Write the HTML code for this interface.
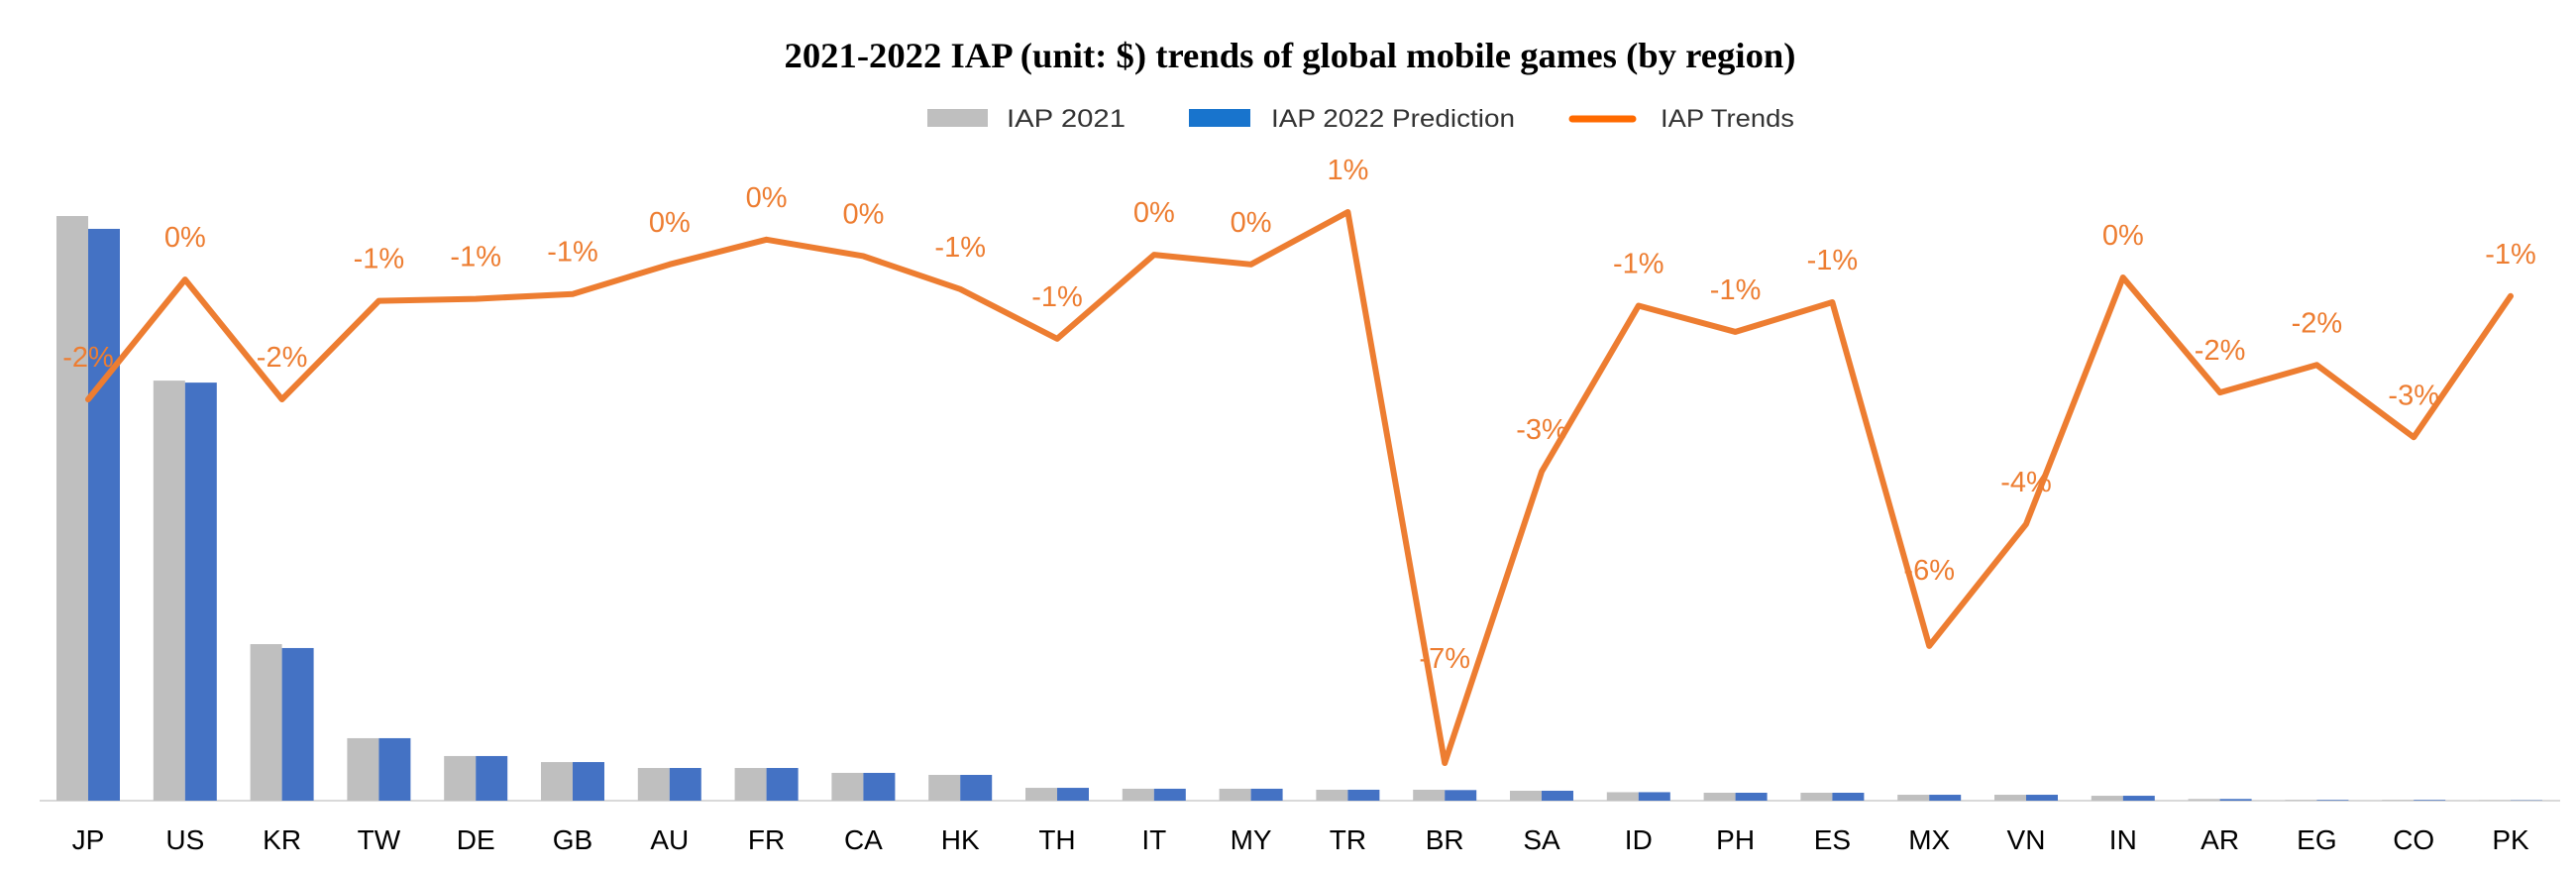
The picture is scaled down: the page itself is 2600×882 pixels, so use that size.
<!DOCTYPE html>
<html><head><meta charset="utf-8"><style>
html,body{margin:0;padding:0;background:#fff;}
svg{display:block;}
</style></head><body>
<svg id="chart" width="2600" height="882" xmlns="http://www.w3.org/2000/svg">
<text x="1302" y="68" text-anchor="middle" font-family="Liberation Serif, serif" font-weight="bold" font-size="36" fill="#000" textLength="1021" lengthAdjust="spacingAndGlyphs">2021-2022 IAP (unit: $) trends of global mobile games (by region)</text>
<g font-family="Liberation Sans, sans-serif" font-size="25" fill="#333">
<g><rect x="936" y="110" width="61" height="18" fill="#BFBFBF"/><text x="1016" y="128" textLength="120" lengthAdjust="spacingAndGlyphs">IAP  2021</text></g>
<g><rect x="1200" y="110" width="62" height="18" fill="#1874CD"/><text x="1283" y="128" textLength="246" lengthAdjust="spacingAndGlyphs">IAP  2022 Prediction</text></g>
<g><line x1="1587" y1="120" x2="1648" y2="120" stroke="#FF6A00" stroke-width="7" stroke-linecap="round"/><text x="1676" y="128" textLength="135" lengthAdjust="spacingAndGlyphs">IAP Trends</text></g>
</g>
<line x1="40" y1="808" x2="2584" y2="808" stroke="#D9D9D9" stroke-width="2"/>
<g id="bars"></g><g id="line"></g><g id="labels"></g><g id="xticks"></g>
</svg>
<script>
const categories = ["JP","US","KR","TW","DE","GB","AU","FR","CA","HK","TH","IT","MY","TR","BR","SA","ID","PH","ES","MX","VN","IN","AR","EG","CO","PK"];
const iap2021 = [5240,3765,1403,560,400,346,293,293,249,231,115,107,107,98,98,89,76,71,71,53,53,44,15,6,6,3];
const iap2022 = [5125,3747,1368,560,400,346,293,293,249,231,115,107,107,98,95,89,76,71,71,53,53,44,15,6,6,3];
const trend = [-1.72,0.02,-1.72,-0.29,-0.26,-0.19,0.24,0.6,0.36,-0.12,-0.84,0.38,0.24,1.0,-7.0,-2.77,-0.36,-0.74,-0.31,-5.3,-3.53,0.05,-1.62,-1.22,-2.27,-0.22];
const trendLabels = ["-2%","0%","-2%","-1%","-1%","-1%","0%","0%","0%","-1%","-1%","0%","0%","1%","-7%","-3%","-1%","-1%","-1%","-6%","-4%","0%","-2%","-2%","-3%","-1%"];

const NS="http://www.w3.org/2000/svg";
const left=40, step=97.8, base=808;
const xC = i => left + 49 + i*step;
const yBar = v => base - v*(590/5240);
const yLine = p => 283.5 - p*69.5;
function mk(tag, attrs, parent){const e=document.createElementNS(NS,tag);for(const k in attrs)e.setAttribute(k,attrs[k]);parent.appendChild(e);return e;}
const gB=document.getElementById('bars'), gL=document.getElementById('line'), gT=document.getElementById('labels'), gX=document.getElementById('xticks');
categories.forEach((c,i)=>{
  const x=xC(i);
  const b1=mk('rect',{x:x-32,y:yBar(iap2021[i]),width:32,height:base-yBar(iap2021[i]),fill:'#BFBFBF'},gB);
  
  
  const b2=mk('rect',{x:x,y:yBar(iap2022[i]),width:32,height:base-yBar(iap2022[i]),fill:'#4472C4'},gB);
  
  
  const t=mk('text',{x:x,y:857,'text-anchor':'middle','font-family':'Liberation Sans, sans-serif','font-size':28,fill:'#000'},gX);
  t.textContent=c;
  
  
  const off = trend[i] < -5 ? (trend[i] < -6 ? 96 : 67) : 33;
  const l=mk('text',{x:x,y:yLine(trend[i])-off,'text-anchor':'middle','font-family':'Liberation Sans, sans-serif','font-size':29,fill:'#ED7D31'},gT);
  l.textContent=trendLabels[i];
  
  
});
const pts=trend.map((p,i)=>xC(i)+','+yLine(p)).join(' ');
const pl=mk('polyline',{points:pts,fill:'none',stroke:'#ED7D31','stroke-width':6,'stroke-linejoin':'round','stroke-linecap':'round'},gL);


</script>
</body></html>
